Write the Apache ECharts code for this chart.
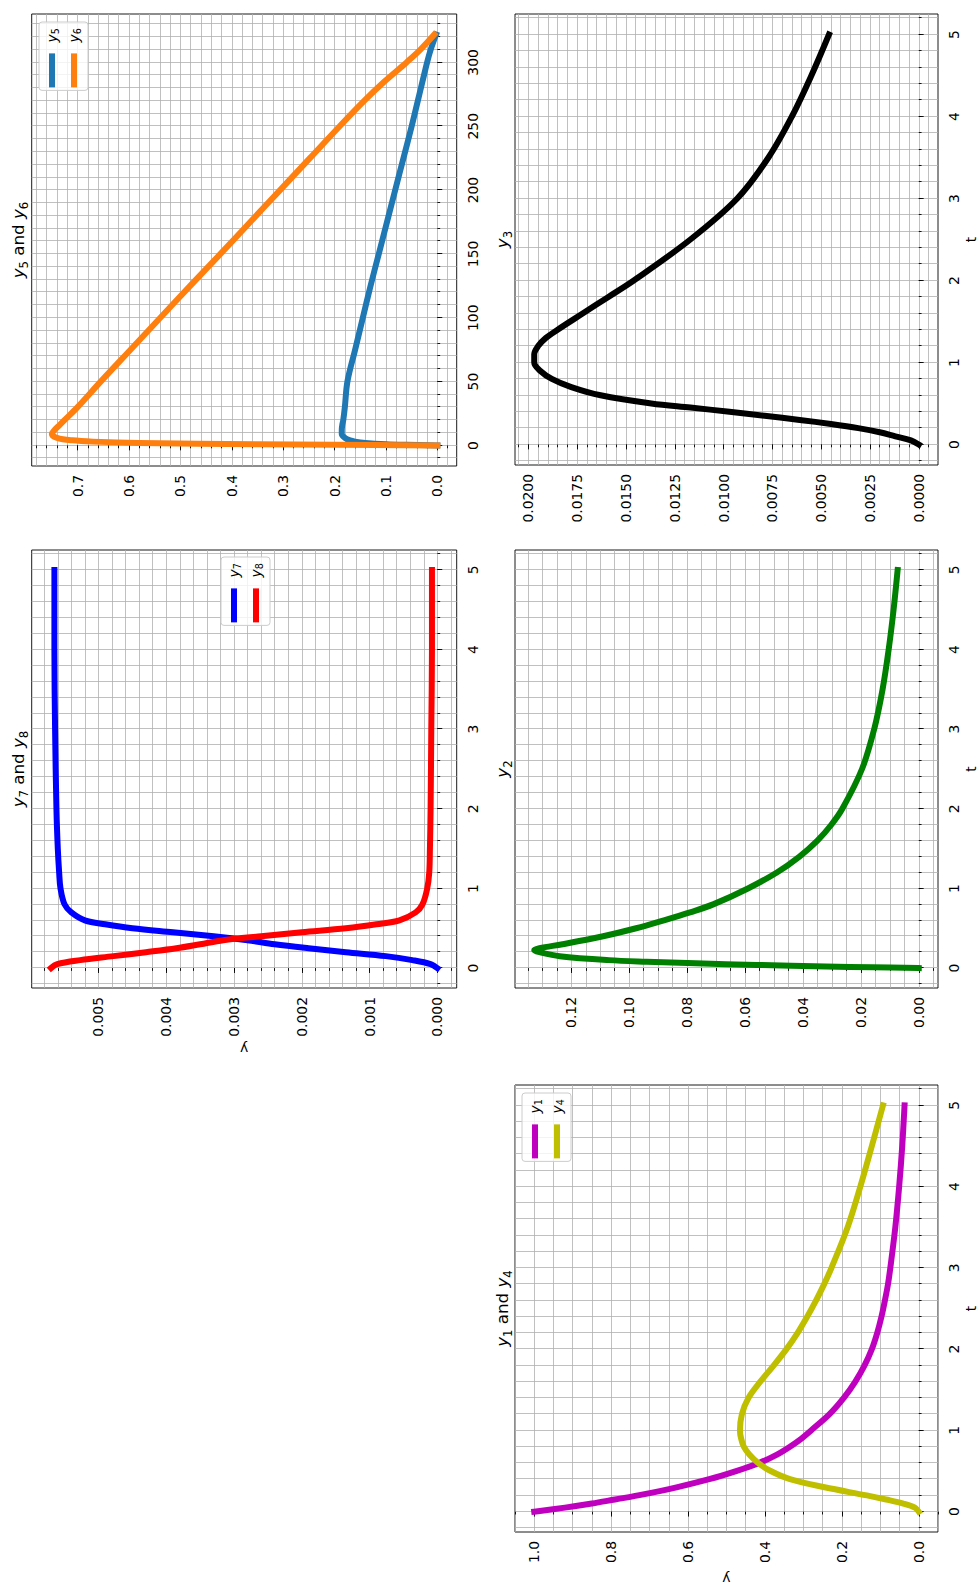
<!DOCTYPE html>
<html>
<head>
<meta charset="utf-8">
<script src="https://cdn.jsdelivr.net/npm/echarts@6.0.0/dist/echarts.min.js"></script>
<style>
  html, body { margin: 0; padding: 0; background: #fff; }
  body { width: 979px; height: 1590px; overflow: hidden; position: relative; }
  /* the figure is laid out landscape and turned a quarter turn counter-clockwise */
  #fig { position: absolute; left: 0; top: 0; width: 1590px; height: 979px;
         transform-origin: 0 0; transform: translate(0px, 1590px) rotate(-90deg); background: #fff; }
</style>
</head>
<body>
<div id="fig"></div>
<script>
// ---- component histories ----
const t14 = [0, 0.05, 0.1, 0.15, 0.2, 0.3, 0.4, 0.5, 0.6, 0.7, 0.8, 0.9, 1.0, 1.2, 1.4, 1.6, 1.8, 2.0, 2.2, 2.4, 2.6, 2.8, 3.0, 3.5, 4.0, 4.5, 5.0];
const y1  = [1.0, 0.92, 0.85, 0.79, 0.73, 0.63, 0.545, 0.475, 0.415, 0.37, 0.335, 0.305, 0.28, 0.232, 0.195, 0.165, 0.141, 0.122, 0.108, 0.097, 0.088, 0.080, 0.074, 0.061, 0.051, 0.043, 0.037];
const y4  = [0, 0.01, 0.04, 0.085, 0.135, 0.245, 0.335, 0.385, 0.418, 0.44, 0.455, 0.462, 0.465, 0.46, 0.443, 0.412, 0.377, 0.344, 0.315, 0.29, 0.267, 0.246, 0.227, 0.185, 0.152, 0.122, 0.093];

const t2 = [0, 0.01, 0.02, 0.04, 0.06, 0.08, 0.1, 0.15, 0.2, 0.225, 0.25, 0.3, 0.4, 0.5, 0.6, 0.7, 0.8, 1.0, 1.2, 1.4, 1.6, 1.8, 2.0, 2.5, 3.0, 3.5, 4.0, 4.5, 5.0];
const y2 = [0, 0.016, 0.032, 0.056, 0.077, 0.094, 0.107, 0.124, 0.131, 0.1328, 0.131, 0.123, 0.109, 0.0976, 0.088, 0.079, 0.071, 0.059, 0.049, 0.0412, 0.035, 0.0302, 0.0264, 0.0196, 0.0154, 0.0125, 0.0104, 0.0087, 0.0073];

const t3 = [0, 0.05, 0.1, 0.15, 0.2, 0.25, 0.3, 0.35, 0.4, 0.45, 0.5, 0.6, 0.7, 0.8, 0.9, 1.0, 1.1, 1.2, 1.3, 1.4, 1.6, 1.8, 2.0, 2.5, 3.0, 3.5, 4.0, 4.5, 5.0];
const y3 = [0, 0.0004, 0.0012, 0.002, 0.0031, 0.0045, 0.0061, 0.0079, 0.0097, 0.0117, 0.0137, 0.0163, 0.0178, 0.0188, 0.0194, 0.0197, 0.0197, 0.0195, 0.0191, 0.0185, 0.0172, 0.0159, 0.0146, 0.0117, 0.0093, 0.0077, 0.0065, 0.0055, 0.0046];

const t56 = [0, 0.5, 1, 2, 3, 4, 6, 9, 12, 16, 20, 30, 50, 75, 100, 125, 150, 175, 200, 225, 250, 270, 285, 300, 310, 321.8];
const y5  = [0, 0.06, 0.1, 0.14, 0.16, 0.17, 0.18, 0.186, 0.186, 0.185, 0.183, 0.18, 0.175, 0.16, 0.145, 0.13, 0.114, 0.098, 0.082, 0.066, 0.05, 0.038, 0.029, 0.02, 0.013, 0.0025];
const y6  = [0, 0.2, 0.35, 0.58, 0.67, 0.71, 0.74, 0.75, 0.745, 0.735, 0.725, 0.7, 0.655, 0.597, 0.539, 0.481, 0.422, 0.364, 0.306, 0.248, 0.19, 0.142, 0.103, 0.06, 0.033, 0.006];

const t78 = [0, 0.05, 0.1, 0.15, 0.2, 0.25, 0.3, 0.35, 0.4, 0.45, 0.5, 0.55, 0.6, 0.7, 0.8, 1.0, 1.2, 1.5, 2, 3, 4, 5];
const y7  = [0, 0.0001, 0.00037, 0.00076, 0.00135, 0.0019, 0.0024, 0.0028, 0.0033, 0.0039, 0.0045, 0.0049, 0.0052, 0.0054, 0.0055, 0.00556, 0.00558, 0.0056, 0.00562, 0.00564, 0.00565, 0.00565];
const y8  = [0.0057, 0.00561, 0.00527, 0.00478, 0.0043, 0.00385, 0.0035, 0.00316, 0.0026, 0.002, 0.00135, 0.0009, 0.00056, 0.00032, 0.00022, 0.00015, 0.00012, 0.00011, 0.0001, 0.00009, 0.00008, 0.00008];

// ---- tick labels ----
const tTicksShort = [0, 1, 2, 3, 4, 5];
const tTicksLong  = [0, 50, 100, 150, 200, 250, 300];
const ticks14 = [0, 0.2, 0.4, 0.6, 0.8, 1.0];
const ticks2  = [0, 0.02, 0.04, 0.06, 0.08, 0.10, 0.12];
const ticks3  = [0, 0.0025, 0.005, 0.0075, 0.01, 0.0125, 0.015, 0.0175, 0.02];
const ticks56 = [0, 0.1, 0.2, 0.3, 0.4, 0.5, 0.6, 0.7];
const ticks78 = [0, 0.001, 0.002, 0.003, 0.004, 0.005];

const FONT = 'DejaVu Sans';
const TICK_FS = 13.9;
const TITLE_FS = 16.7;
const LW = 6;

const COLORS = { y1: '#bf00bf', y4: '#bfbf00', y2: '#008000', y3: '#000000',
                 y5: '#1f77b4', y6: '#ff7f0e', y7: '#0000ff', y8: '#ff0000' };

function pairs(t, v) { return t.map((tv, i) => [tv, v[i]]); }

function stepValues(min, max, step) {
  const out = [];
  for (let k = Math.ceil(min / step - 1e-9); k * step <= max + 1e-12; k++) {
    out.push(Math.round(k * step * 1e10) / 1e10);
  }
  return out;
}

// panels in landscape coordinates
const panels = [
  { grid: { left: 58, top: 515, width: 447, height: 426 },
    t: { min: -0.25, max: 5.25, major: tTicksShort, step: 0.2, digits: 0, name: 't' },
    v: { min: -0.05, max: 1.05, major: ticks14, step: 0.05, digits: 1, name: 'y', nameGap: 40 },
    title: '{i|y}{s|1}{n| and }{i|y}{s|4}',
    series: [['y1', t14, y1], ['y4', t14, y4]],
    legend: { right: 1093, top: 522 } },
  { grid: { left: 602, top: 515, width: 438, height: 426 },
    t: { min: -0.25, max: 5.25, major: tTicksShort, step: 0.2, digits: 0, name: 't' },
    v: { min: -0.00664, max: 0.13944, major: ticks2, step: 0.005, digits: 2 },
    title: '{i|y}{s|2}',
    series: [['y2', t2, y2]] },
  { grid: { left: 1125, top: 515, width: 451, height: 427 },
    t: { min: -0.25, max: 5.25, major: tTicksShort, step: 0.2, digits: 0, name: 't' },
    v: { min: -0.000985, max: 0.020685, major: ticks3, step: 0.0005, digits: 4 },
    title: '{i|y}{s|3}',
    series: [['y3', t3, y3]] },
  { grid: { left: 602, top: 31.7, width: 438, height: 425 },
    t: { min: -0.25, max: 5.25, major: tTicksShort, step: 0.2, digits: 0 },
    v: { min: -0.000285, max: 0.005985, major: ticks78, step: 0.0002, digits: 3, name: 'y', nameGap: 54 },
    title: '{i|y}{s|7}{n| and }{i|y}{s|8}',
    series: [['y7', t78, y7], ['y8', t78, y8]],
    legend: { right: 557, top: 221 } },
  { grid: { left: 1124, top: 31.7, width: 452, height: 425 },
    t: { min: -16.09, max: 337.9, major: tTicksLong, step: 10, digits: 0 },
    v: { min: -0.0376, max: 0.7892, major: ticks56, step: 0.02, digits: 1 },
    title: '{i|y}{s|5}{n| and }{i|y}{s|6}',
    series: [['y5', t56, y5], ['y6', t56, y6]],
    legend: { right: 22, top: 39 } }
];

const tickLine = { color: '#000', width: 0.9 };
const labelText = { fontFamily: FONT, fontSize: TICK_FS, color: '#000' };

function axes(dim, gi, ax) {
  const pos = dim === 'x' ? 'bottom' : 'left';
  const main = {
    type: 'value', gridIndex: gi, position: pos, min: ax.min, max: ax.max,
    axisLine: { show: false },
    axisTick: { show: true, length: 2.8, lineStyle: tickLine, customValues: stepValues(ax.min, ax.max, ax.step) },
    splitLine: { show: true, lineStyle: { color: '#b0b0b0', width: 0.8 } },
    axisLabel: Object.assign({ show: true, margin: 9, customValues: ax.major,
                               formatter: v => Number(v).toFixed(ax.digits) }, labelText),
    name: ax.name || '', nameLocation: 'middle',
    nameGap: ax.nameGap || 26, nameRotate: dim === 'y' ? 90 : 0,
    nameTextStyle: labelText
  };
  const major = {
    type: 'value', gridIndex: gi, position: pos, min: ax.min, max: ax.max,
    axisLine: { show: false },
    axisTick: { show: true, length: 4.9, lineStyle: tickLine, customValues: ax.major },
    splitLine: { show: false }, axisLabel: { show: false }
  };
  return [main, major];
}

const legendRich = {
  i: { fontFamily: FONT, fontStyle: 'italic', fontSize: TICK_FS, lineHeight: 16, verticalAlign: 'middle', color: '#000' },
  s: { fontFamily: FONT, fontSize: 9.7, lineHeight: 8, verticalAlign: 'bottom', color: '#000' }
};
const titleRich = {
  i: { fontFamily: FONT, fontStyle: 'italic', fontSize: TITLE_FS, lineHeight: 24, verticalAlign: 'middle', fill: '#000' },
  n: { fontFamily: FONT, fontSize: TITLE_FS, lineHeight: 24, verticalAlign: 'middle', fill: '#000' },
  s: { fontFamily: FONT, fontSize: 11.7, lineHeight: 14, verticalAlign: 'bottom', fill: '#000' }
};

const option = { animation: false, grid: [], xAxis: [], yAxis: [], series: [], legend: [], graphic: [] };

panels.forEach((p, gi) => {
  option.grid.push(Object.assign({ show: true, borderColor: '#000', borderWidth: 0.9,
                                   backgroundColor: 'transparent', containLabel: false }, p.grid));
  const xi = option.xAxis.length, yi = option.yAxis.length;
  option.xAxis.push(...axes('x', gi, p.t));
  option.yAxis.push(...axes('y', gi, p.v));
  p.series.forEach(([name, t, v]) => {
    option.series.push({
      name, type: 'line', xAxisIndex: xi, yAxisIndex: yi, data: pairs(t, v),
      showSymbol: false, smooth: 0.35, silent: true,
      lineStyle: { color: COLORS[name], width: LW, cap: 'square', join: 'round' },
      itemStyle: { color: COLORS[name] }
    });
  });
  if (p.legend) {
    option.legend.push({
      data: p.series.map(s => s[0]), orient: 'vertical', right: p.legend.right, top: p.legend.top,
      icon: 'rect', itemWidth: 34, itemHeight: LW, itemGap: 7, padding: [6, 6, 6, 3],
      backgroundColor: 'rgba(255,255,255,0.8)', borderColor: '#cccccc', borderWidth: 1, borderRadius: 3,
      selectedMode: false,
      formatter: name => '{i|y}{s|' + name.slice(1) + '}',
      textStyle: { rich: legendRich, padding: [0, 0, 0, 6] }
    });
  }
  option.graphic.push({
    type: 'text', x: p.grid.left + p.grid.width / 2, y: p.grid.top - 25.3, silent: true,
    style: { text: p.title, rich: titleRich, align: 'center', verticalAlign: 'top' }
  });
});

const chart = echarts.init(document.getElementById('fig'), null, { renderer: 'svg', width: 1590, height: 979 });
chart.setOption(option);
</script>
</body>
</html>
